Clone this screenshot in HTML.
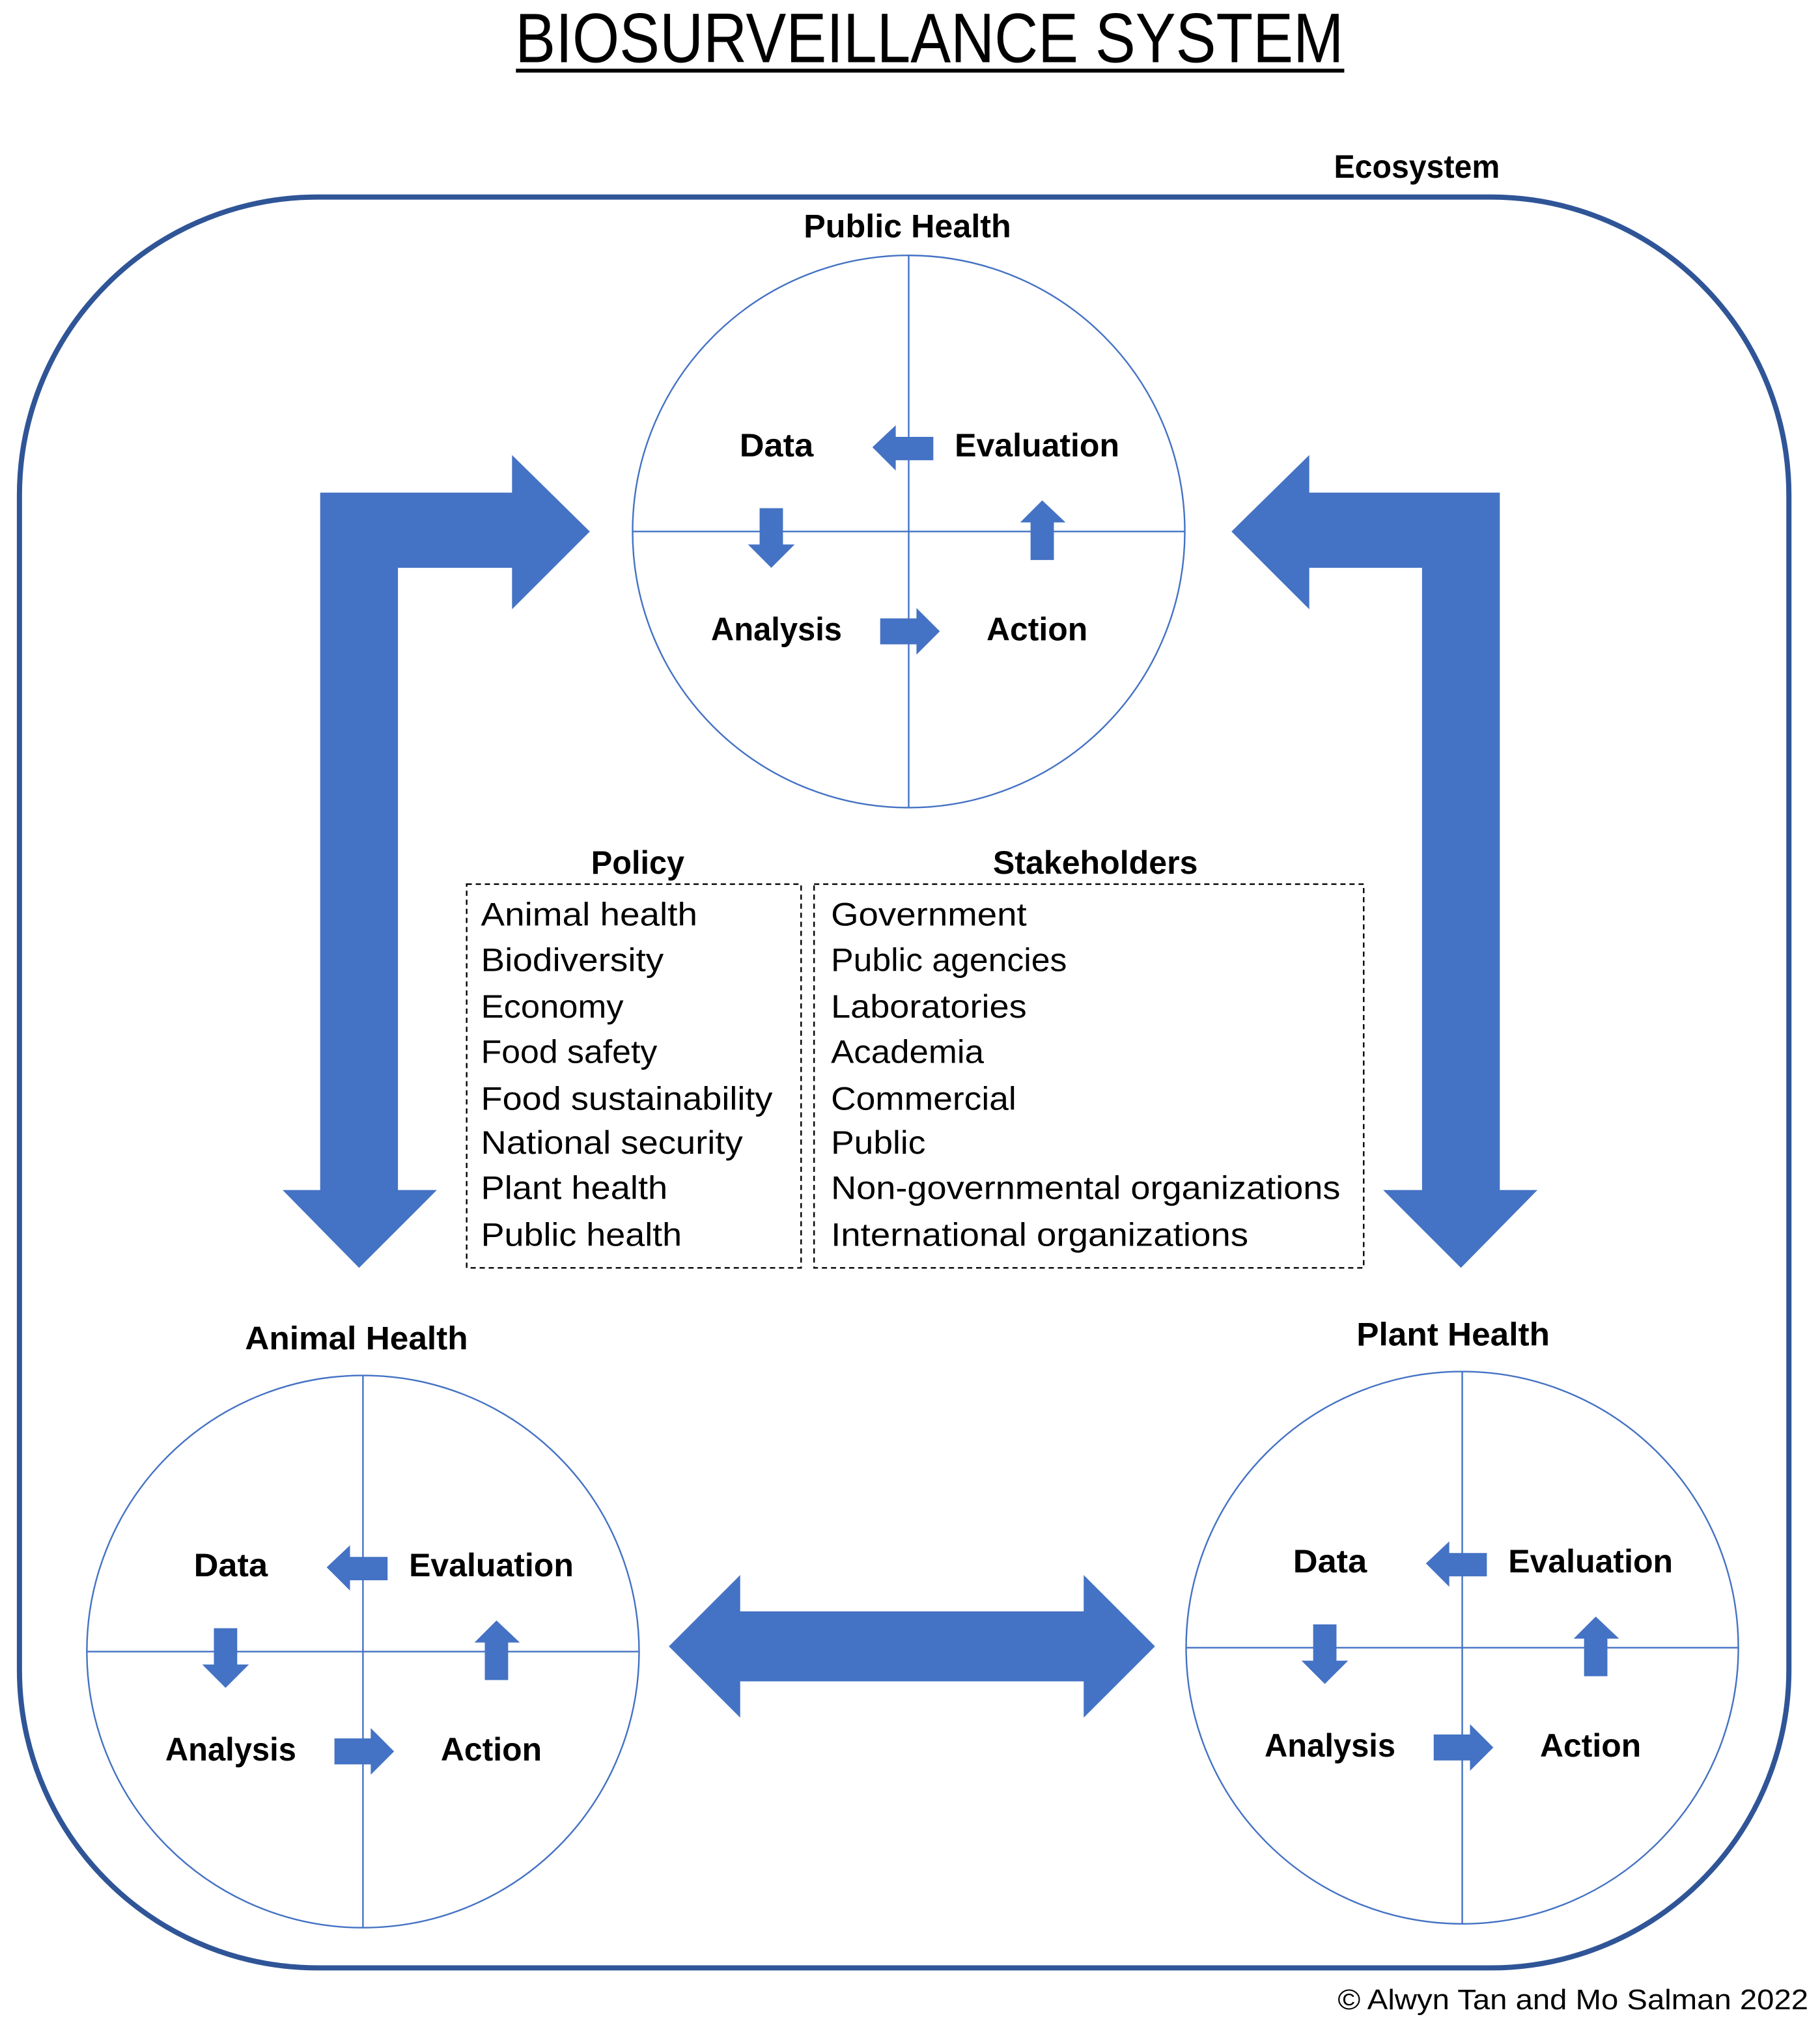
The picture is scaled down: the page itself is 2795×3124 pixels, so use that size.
<!DOCTYPE html>
<html><head><meta charset="utf-8"><style>
html,body{margin:0;padding:0;background:#fff;}
svg{display:block;}
text{font-family:"Liberation Sans",sans-serif;fill:#000;}
.b{font-weight:bold;font-size:25px;}
.r{font-size:25px;}
</style></head><body>
<svg width="2795" height="3124" viewBox="0 0 1404 1569" preserveAspectRatio="none" xmlns="http://www.w3.org/2000/svg">
<defs>
<g id="quad">
<circle cx="0" cy="0" r="213" fill="none" stroke="#4472C4" stroke-width="1.2"/>
<line x1="0" y1="-213" x2="0" y2="213" stroke="#4472C4" stroke-width="1.2"/>
<line x1="-213" y1="0" x2="213" y2="0" stroke="#4472C4" stroke-width="1.2"/>
<polygon fill="#4472C4" points="-28,-65 -10,-82 -10,-73 19,-73 19,-55 -10,-55 -10,-47"/>
<polygon fill="#4472C4" points="-115,-18 -97,-18 -97,10 -88,10 -106,28 -124,10 -115,10"/>
<polygon fill="#4472C4" points="103,-24 121,-7 112,-7 112,22 94,22 94,-7 86,-7"/>
<polygon fill="#4472C4" points="-22,67 6,67 6,59 24,77 6,95 6,87 -22,87"/>
<text class="b" x="-102" y="-58" text-anchor="middle" textLength="57" lengthAdjust="spacingAndGlyphs">Data</text>
<text class="b" x="99" y="-58" text-anchor="middle" textLength="127" lengthAdjust="spacingAndGlyphs">Evaluation</text>
<text class="b" x="-102" y="84" text-anchor="middle" textLength="101" lengthAdjust="spacingAndGlyphs">Analysis</text>
<text class="b" x="99" y="84" text-anchor="middle" textLength="78" lengthAdjust="spacingAndGlyphs">Action</text>
</g>
</defs>

<text x="717" y="48" text-anchor="middle" font-size="54" textLength="639" lengthAdjust="spacingAndGlyphs">BIOSURVEILLANCE SYSTEM</text>
<rect x="398" y="53" width="639" height="3" fill="#000"/>

<text class="b" x="1093" y="137" text-anchor="middle" textLength="128" lengthAdjust="spacingAndGlyphs">Ecosystem</text>
<rect x="15" y="152" width="1365" height="1366" rx="230" ry="230" fill="none" stroke="#2F5597" stroke-width="4"/>

<text class="b" x="700" y="183" text-anchor="middle" textLength="160" lengthAdjust="spacingAndGlyphs">Public Health</text>
<use href="#quad" transform="translate(701,410)"/>

<text class="b" x="275" y="1041" text-anchor="middle" textLength="172" lengthAdjust="spacingAndGlyphs">Animal Health</text>
<use href="#quad" transform="translate(280,1274)"/>

<text class="b" x="1121" y="1038" text-anchor="middle" textLength="149" lengthAdjust="spacingAndGlyphs">Plant Health</text>
<use href="#quad" transform="translate(1128,1271)"/>

<polygon fill="#4472C4" points="247,380 395,380 395,351 455,410 395,470 395,438 307,438 307,918 337,918 277,978 218,918 247,918"/>
<polygon fill="#4472C4" points="1157,380 1010,380 1010,351 950,410 1010,470 1010,438 1097,438 1097,918 1067,918 1127,978 1186,918 1157,918"/>
<polygon fill="#4472C4" points="516,1270 571,1215 571,1243 836,1243 836,1215 891,1270 836,1325 836,1297 571,1297 571,1325"/>

<text class="b" x="492" y="674" text-anchor="middle" textLength="72" lengthAdjust="spacingAndGlyphs">Policy</text>
<text class="b" x="845" y="674" text-anchor="middle" textLength="158" lengthAdjust="spacingAndGlyphs">Stakeholders</text>
<rect x="360" y="682" width="258" height="296" fill="none" stroke="#000" stroke-width="1.2" stroke-dasharray="4,3"/>
<rect x="628" y="682" width="424" height="296" fill="none" stroke="#000" stroke-width="1.2" stroke-dasharray="4,3"/>

<text class="r" x="371" y="714" textLength="167" lengthAdjust="spacingAndGlyphs">Animal health</text>
<text class="r" x="371" y="749" textLength="141" lengthAdjust="spacingAndGlyphs">Biodiversity</text>
<text class="r" x="371" y="785" textLength="110" lengthAdjust="spacingAndGlyphs">Economy</text>
<text class="r" x="371" y="820" textLength="136" lengthAdjust="spacingAndGlyphs">Food safety</text>
<text class="r" x="371" y="856" textLength="225" lengthAdjust="spacingAndGlyphs">Food sustainability</text>
<text class="r" x="371" y="890" textLength="202" lengthAdjust="spacingAndGlyphs">National security</text>
<text class="r" x="371" y="925" textLength="144" lengthAdjust="spacingAndGlyphs">Plant health</text>
<text class="r" x="371" y="961" textLength="155" lengthAdjust="spacingAndGlyphs">Public health</text>
<text class="r" x="641" y="714" textLength="151" lengthAdjust="spacingAndGlyphs">Government</text>
<text class="r" x="641" y="749" textLength="182" lengthAdjust="spacingAndGlyphs">Public agencies</text>
<text class="r" x="641" y="785" textLength="151" lengthAdjust="spacingAndGlyphs">Laboratories</text>
<text class="r" x="641" y="820" textLength="118" lengthAdjust="spacingAndGlyphs">Academia</text>
<text class="r" x="641" y="856" textLength="143" lengthAdjust="spacingAndGlyphs">Commercial</text>
<text class="r" x="641" y="890" textLength="73" lengthAdjust="spacingAndGlyphs">Public</text>
<text class="r" x="641" y="925" textLength="393" lengthAdjust="spacingAndGlyphs">Non-governmental organizations</text>
<text class="r" x="641" y="961" textLength="322" lengthAdjust="spacingAndGlyphs">International organizations</text>

<text x="1395" y="1550" text-anchor="end" font-size="22" textLength="363" lengthAdjust="spacingAndGlyphs">© Alwyn Tan and Mo Salman 2022</text>
</svg>
</body></html>
